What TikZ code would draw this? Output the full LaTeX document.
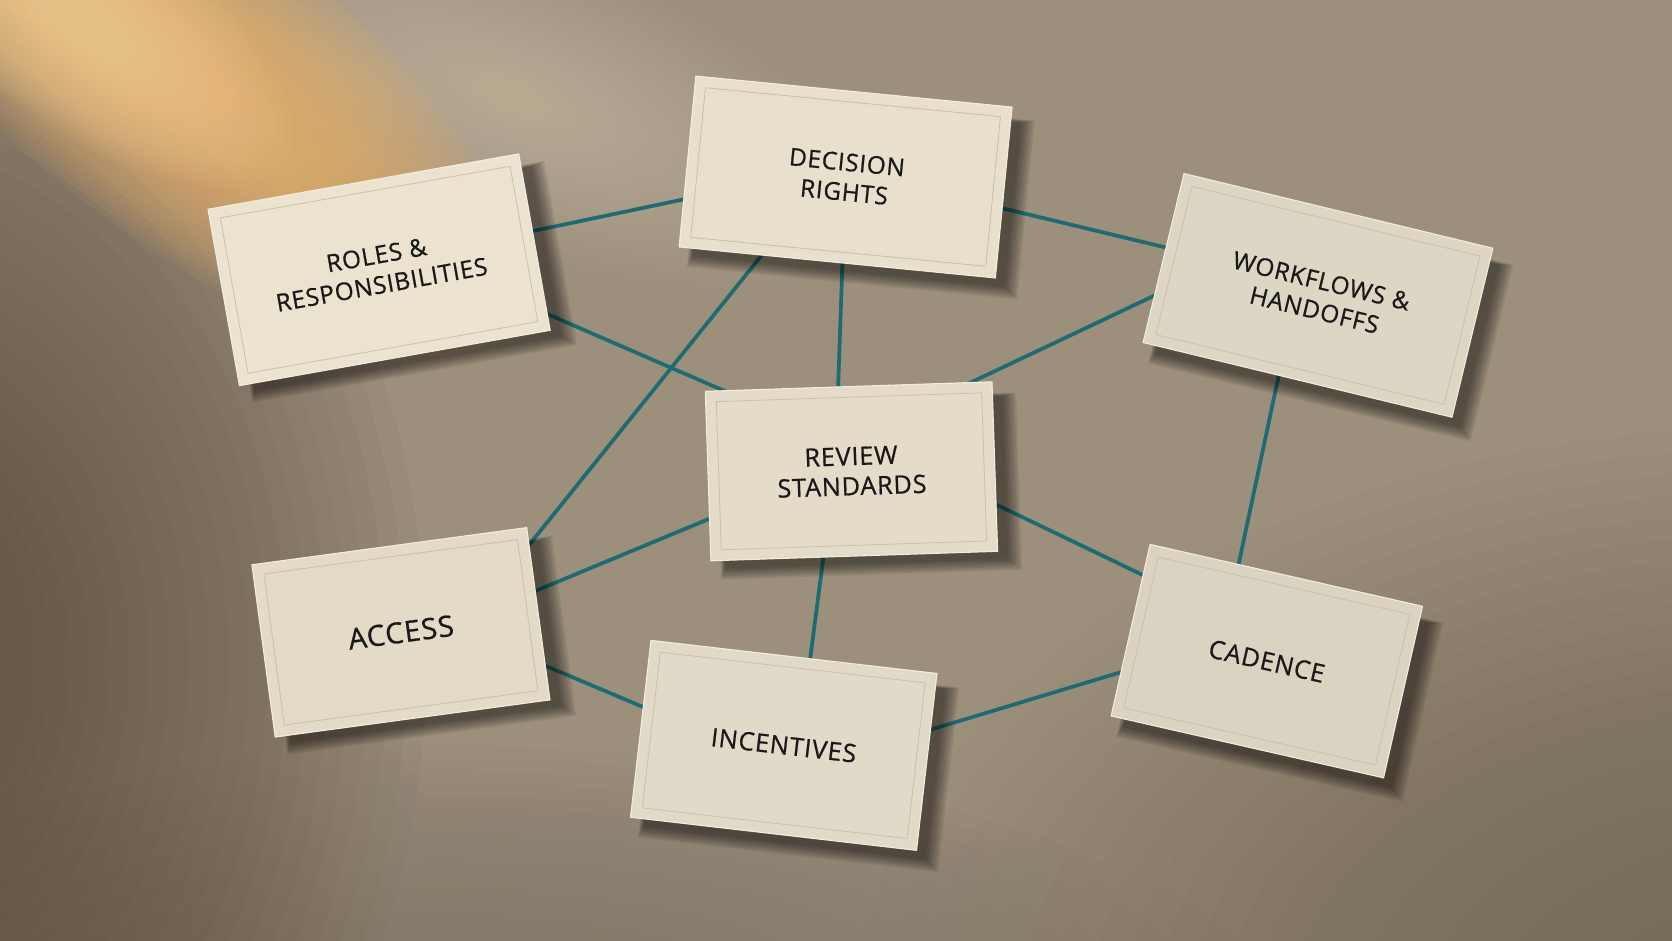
\documentclass[tikz,border=0pt]{standalone}
\usepackage{fontspec}
\newfontfamily\cardfont[LetterSpace=3, FakeBold=0.7]{Open Sans}
\definecolor{paperbase}{HTML}{9C8F7C}
\definecolor{paperlight}{HTML}{B3A693}
\definecolor{paperdark}{HTML}{574735}
\definecolor{paperdark2}{HTML}{5C5143}
\definecolor{glowA}{HTML}{ECB46A}
\definecolor{glowB}{HTML}{F6D49A}
\definecolor{glowC}{HTML}{DCCDB4}
\definecolor{teal}{HTML}{1E6C71}
\definecolor{inkcol}{HTML}{191919}
\definecolor{innercol}{HTML}{C9C1AD}
\definecolor{edgecol}{HTML}{F2ECDC}
\definecolor{cardA}{HTML}{EBE3D0}
\definecolor{cardB}{HTML}{E8E0CD}
\definecolor{cardC}{HTML}{DED6C4}
\definecolor{cardD}{HTML}{E4DCC9}
\definecolor{cardE}{HTML}{E3DBC8}
\definecolor{cardF}{HTML}{E2DAC8}
\definecolor{cardG}{HTML}{DBD3C1}
\pgfdeclarelayer{paper}
\pgfdeclarelayer{links}
\pgfsetlayers{paper,links,main}
\tikzset{
  card/.style={rectangle, draw=edgecol, line width=0.6pt, inner sep=0pt},
  innerline/.style={draw=innercol, line width=0.45pt},
  cardtext/.style={align=center, text=inkcol, inner sep=0pt},
  link/.style={draw=teal, line width=2pt, shorten <=-10pt, shorten >=-10pt},
  twoline/.style={font=\cardfont\fontsize{13}{16}\selectfont},
  oneline/.style={font=\cardfont\fontsize{13.5}{16}\selectfont},
  bigline/.style={font=\cardfont\fontsize{15.5}{18}\selectfont},
}
% soft blob: #1 colour, #2 cx, #3 cy, #4 rx, #5 ry, #6 angle, #7 opacity per layer
\newcommand\softblob[7]{%
  \foreach \k in {1,...,28}{
    \fill[#1, opacity=#7, rotate around={#6:(#2,#3)}] (#2,#3) ellipse ({#4/28*\k} and {#5/28*\k});
  }
}
% #1 name, #2 x, #3 y, #4 angle, #5 width px, #6 height px, #7 fill, #8 text style, #9 text
\newcommand\papercard[9]{%
  \begin{scope}[shift={(#2,#3)}, rotate=#4]
    \foreach \k in {1,...,8}{
      \fill[black, opacity=0.07]
        ({-#5/2+14-\k*0.6}, {-#6/2+14-\k*0.4}) rectangle ({#5/2+8+\k*1.8}, {#6/2+6+\k*1.5});
    }
  \end{scope}
  \node[card, fill=#7, rotate=#4, minimum width=#5*0.02cm, minimum height=#6*0.02cm] (#1) at (#2,#3) {};
  \begin{scope}[shift={(#2,#3)}, rotate=#4]
    \draw[innerline] ({-#5/2+10},{-#6/2+10}) rectangle ({#5/2-10},{#6/2-10});
  \end{scope}
  \node[cardtext, #8, rotate=#4] (#1-text) at (#2,#3) {#9};
}
\begin{document}
\begin{tikzpicture}[x=0.02cm, y=-0.02cm]
\useasboundingbox (0,0) rectangle (1568,882);
\begin{pgfonlayer}{paper}
  \begin{scope}
    \clip (0,0) rectangle (1568,882);
    \fill[paperbase] (0,0) rectangle (1568,882);
    \softblob{paperlight}{820}{400}{820}{470}{0}{0.03}
    \softblob{paperdark}{-120}{620}{520}{680}{0}{0.046}
    \softblob{paperdark2}{1680}{960}{880}{560}{0}{0.028}
    \softblob{paperdark2}{420}{1020}{820}{320}{0}{0.02}
    \softblob{glowC}{480}{90}{360}{140}{-20}{0.028}
    \softblob{glowA}{170}{70}{400}{150}{-38}{0.073}
    \softblob{glowB}{70}{15}{240}{100}{-35}{0.051}
  \end{scope}
\end{pgfonlayer}

\papercard{R}{355.5}{253}{10.1}{296}{168}{cardA}{twoline}{ROLES \&\\RESPONSIBILITIES}
\papercard{D}{793}{166}{-5.6}{298}{161}{cardB}{twoline}{DECISION\\RIGHTS}
\papercard{W}{1236}{277}{-13.6}{298}{163}{cardC}{twoline}{WORKFLOWS \&\\HANDOFFS}
\papercard{V}{798.5}{442}{1.9}{269}{159}{cardD}{oneline}{REVIEW\\STANDARDS}
\papercard{A}{376}{593}{7.7}{260}{163}{cardE}{bigline}{ACCESS}
\papercard{I}{735}{699}{-6.6}{270}{167}{cardF}{oneline}{INCENTIVES}
\papercard{C}{1188}{620}{-12.8}{262}{165}{cardG}{oneline}{CADENCE}

% connector ports, relative to the card centres
\coordinate (rd-r) at ([shift={(147.5,-37)}]R.center);
\coordinate (rd-d) at ([shift={(-152,21)}]D.center);
\coordinate (dw-d) at ([shift={(150,30)}]D.center);
\coordinate (dw-w) at ([shift={(-143,-45)}]W.center);
\coordinate (rv-r) at ([shift={(163.5,44)}]R.center);
\coordinate (rv-v) at ([shift={(-120.5,-76)}]V.center);
\coordinate (da-d) at ([shift={(-80,75)}]D.center);
\coordinate (da-a) at ([shift={(121,-83)}]A.center);
\coordinate (dv-d) at ([shift={(-3,82)}]D.center);
\coordinate (dv-v) at ([shift={(-12.5,-80)}]V.center);
\coordinate (wv-w) at ([shift={(-153,0)}]W.center);
\coordinate (wv-v) at ([shift={(115.5,-85)}]V.center);
\coordinate (wc-w) at ([shift={(-37,76)}]W.center);
\coordinate (wc-c) at ([shift={(-26,-93)}]C.center);
\coordinate (va-v) at ([shift={(-134.5,45)}]V.center);
\coordinate (va-a) at ([shift={(129,-40)}]A.center);
\coordinate (vc-v) at ([shift={(137.5,32)}]V.center);
\coordinate (vc-c) at ([shift={(-119,-82)}]C.center);
\coordinate (vi-v) at ([shift={(-26.5,82)}]V.center);
\coordinate (vi-i) at ([shift={(25,-83)}]I.center);
\coordinate (ai-a) at ([shift={(137,32)}]A.center);
\coordinate (ai-i) at ([shift={(-132,-36)}]I.center);
\coordinate (ic-i) at ([shift={(142,-16)}]I.center);
\coordinate (ic-c) at ([shift={(-139,11)}]C.center);

\begin{pgfonlayer}{links}
  \draw[link] (rd-r) -- (rd-d);
  \draw[link] (dw-d) -- (dw-w);
  \draw[link] (rv-r) -- (rv-v);
  \draw[link] (da-d) -- (da-a);
  \draw[link] (dv-d) -- (dv-v);
  \draw[link] (wv-w) -- (wv-v);
  \draw[link] (wc-w) -- (wc-c);
  \draw[link] (va-v) -- (va-a);
  \draw[link] (vc-v) -- (vc-c);
  \draw[link] (vi-v) -- (vi-i);
  \draw[link] (ai-a) -- (ai-i);
  \draw[link] (ic-i) -- (ic-c);
\end{pgfonlayer}
\end{tikzpicture}
\end{document}
